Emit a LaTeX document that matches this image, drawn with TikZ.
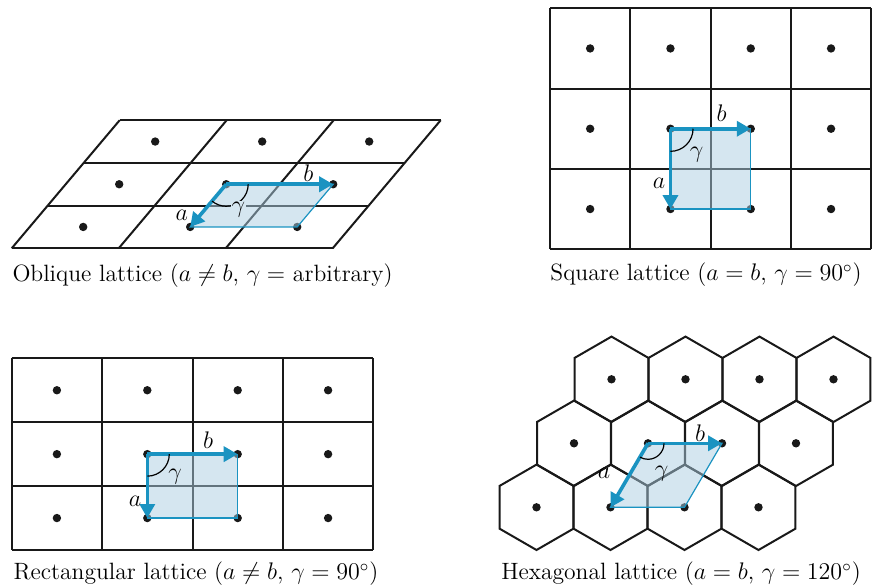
\documentclass[tikz,border=0pt]{standalone}
\usepackage{amsmath}
\usepackage{xcolor}
\usepackage{tikz}
\usetikzlibrary{arrows.meta, shapes.geometric}

\definecolor{vecblue}{HTML}{1A93C1}
\definecolor{cellblue}{HTML}{ABCDE1}
\definecolor{cellpale}{HTML}{D5E6F0}

\begin{document}
\begin{tikzpicture}[
    x=0.5pt, y=-0.5pt,
    font=\fontsize{11.8}{14}\selectfont,
    gridline/.style={draw=black!90, line width=1pt},
    latpt/.style={circle, fill=black!90, inner sep=0pt, minimum size=4.2pt},
    hexcell/.style={regular polygon, regular polygon sides=6, rotate=30,
                    draw=black!90, line width=1pt, minimum size=42.7pt,
                    inner sep=0pt, outer sep=0pt},
    cell/.style={fill=cellblue, fill opacity=0.5, draw=vecblue, line width=0.6pt},
    vec/.style={-{Triangle[length=7pt, width=7.5pt]}, draw=vecblue, line width=1.8pt},
    angarc/.style={draw=black, line width=0.6pt},
    lbl/.style={inner sep=0.5pt},
    caption/.style={inner sep=0pt},
]
    \useasboundingbox (0,0) rectangle (878,588);

    % Oblique lattice
    \begin{scope}[shift={(11.7,248.3)}, x={(53.5pt,0pt)}, y={(18pt,21.35pt)}]
        \foreach \j in {0,...,3} \draw[gridline] (0,\j) -- (3,\j);
        \foreach \i in {0,...,3} \draw[gridline] (\i,0) -- (\i,3);
        \foreach \i in {0,1,2} \foreach \j in {0,1,2}
            \node[latpt] (ob-\i-\j) at (\i+.5,\j+.5) {};
    \end{scope}
    \filldraw[cell] (ob-1-1.center) -- (ob-2-1.center) -- (ob-2-0.center)
                    -- (ob-1-0.center) -- cycle;
    \draw[vec] (ob-1-1.center) -- (ob-2-1.center);
    \draw[vec] (ob-1-1.center) -- (ob-1-0.center);
    \draw[angarc] ([shift={(0:11pt)}]ob-1-1.center)
                  arc[start angle=0, end angle=-130, radius=11pt];
    \node[lbl] (ob-a) at (181.7,215) {$a$};
    \node[lbl] (ob-b) at (308.3,173.3) {$b$};
    \node[lbl, fill=cellpale] (ob-g) at (238.3,210) {$\gamma$};
    \node[caption] (cap-ob) at (202.5,276)
          {Oblique lattice ($a \neq b$, $\gamma =$ arbitrary)};

    % Square lattice
    \begin{scope}[shift={(550,8.3)}, x=40.15pt, y=-40.15pt]
        \foreach \j in {0,...,3} \draw[gridline] (0,\j) -- (4,\j);
        \foreach \i in {0,...,4} \draw[gridline] (\i,0) -- (\i,3);
        \foreach \i in {0,...,3} \foreach \j in {0,1,2}
            \node[latpt] (sq-\i-\j) at (\i+.5,\j+.5) {};
    \end{scope}
    \filldraw[cell] (sq-1-1.center) -- (sq-2-1.center) -- (sq-2-2.center)
                    -- (sq-1-2.center) -- cycle;
    \draw[vec] (sq-1-1.center) -- (sq-2-1.center);
    \draw[vec] (sq-1-1.center) -- (sq-1-2.center);
    \draw[angarc] ([shift={(0:11.3pt)}]sq-1-1.center)
                  arc[start angle=0, end angle=-90, radius=11.3pt];
    \node[lbl] (sq-a) at (659,183) {$a$};
    \node[lbl] (sq-b) at (721.7,113) {$b$};
    \node[lbl] (sq-g) at (696.7,155) {$\gamma$};
    \node[caption] (cap-sq) at (706,275)
          {Square lattice ($a = b$, $\gamma = 90^\circ$)};

    % Rectangular lattice
    \begin{scope}[shift={(11.7,358.3)}, x=45.2pt, y=-31.95pt]
        \foreach \j in {0,...,3} \draw[gridline] (0,\j) -- (4,\j);
        \foreach \i in {0,...,4} \draw[gridline] (\i,0) -- (\i,3);
        \foreach \i in {0,...,3} \foreach \j in {0,1,2}
            \node[latpt] (re-\i-\j) at (\i+.5,\j+.5) {};
    \end{scope}
    \filldraw[cell] (re-1-1.center) -- (re-2-1.center) -- (re-2-2.center)
                    -- (re-1-2.center) -- cycle;
    \draw[vec] (re-1-1.center) -- (re-2-1.center);
    \draw[vec] (re-1-1.center) -- (re-1-2.center);
    \draw[angarc] ([shift={(0:11pt)}]re-1-1.center)
                  arc[start angle=0, end angle=-90, radius=11pt];
    \node[lbl] (re-a) at (135,501.7) {$a$};
    \node[lbl] (re-b) at (208,440) {$b$};
    \node[lbl] (re-g) at (175,476.7) {$\gamma$};
    \node[caption] (cap-re) at (196,574)
          {Rectangular lattice ($a \neq b$, $\gamma = 90^\circ$)};

    % Hexagonal lattice
    \begin{scope}[shift={(611.5,379.3)}, x={(37pt,0pt)}, y={(-18.75pt,-32pt)}]
        \foreach \i in {0,...,3} \foreach \j in {0,1,2} {
            \node[hexcell] (hx-\i-\j) at (\i,\j) {};
            \node[latpt] (hp-\i-\j) at (\i,\j) {};
        }
    \end{scope}
    \filldraw[cell] (hp-1-1.center) -- (hp-2-1.center) -- (hp-2-2.center)
                    -- (hp-1-2.center) -- cycle;
    \draw[vec] (hp-1-1.center) -- (hp-2-1.center);
    \draw[vec] (hp-1-1.center) -- (hp-1-2.center);
    \draw[angarc] ([shift={(0:8pt)}]hp-1-1.center)
                  arc[start angle=0, end angle=-120, radius=8pt];
    \node[lbl] (hx-a) at (604,473.3) {$a$};
    \node[lbl] (hx-b) at (700,433.3) {$b$};
    \node[lbl] (hx-g) at (661.7,473.3) {$\gamma$};
    \node[caption] (cap-hx) at (681,574)
          {Hexagonal lattice ($a = b$, $\gamma = 120^\circ$)};

\end{tikzpicture}
\end{document}
